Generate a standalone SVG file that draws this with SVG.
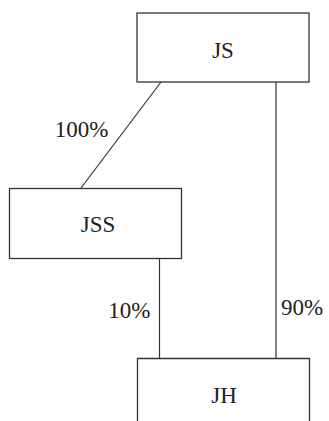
<svg xmlns="http://www.w3.org/2000/svg" width="329" height="421" viewBox="0 0 329 421">
<style>
.box{fill:#fff;stroke:#333;stroke-width:1.3}
.ln{fill:none;stroke:#333;stroke-width:1.2}
.t{font-family:'Liberation Serif', 'Times New Roman', Times, serif;font-size:23px;fill:#222}
.c{text-anchor:middle}
</style>
<rect width="329" height="421" fill="#fff"/>
<g id="connectors">
<line class="ln" x1="161" y1="82" x2="81" y2="188"/>
<line class="ln" x1="276" y1="82" x2="276" y2="358"/>
<line class="ln" x1="159.5" y1="258" x2="159.5" y2="358"/>
<text class="t" x="108.5" y="136.5" text-anchor="end" font-family="Liberation Serif">100%</text>
<text class="t" x="150.5" y="318" text-anchor="end" font-family="Liberation Serif">10%</text>
<text class="t" x="281" y="315" font-family="Liberation Serif">90%</text>
</g>
<g id="JS">
<rect class="box" x="137" y="13" width="172" height="69"/>
<text class="t c" x="223" y="57.5" font-family="Liberation Serif">JS</text>
</g>
<g id="JSS">
<rect class="box" x="9.5" y="188.5" width="172" height="70"/>
<text class="t c" x="98" y="231.5" font-family="Liberation Serif">JSS</text>
</g>
<g id="JH">
<path class="box" d="M137.5,425 V358.5 H309.5 V425"/>
<text class="t c" x="224" y="403" font-family="Liberation Serif">JH</text>
</g>
</svg>
